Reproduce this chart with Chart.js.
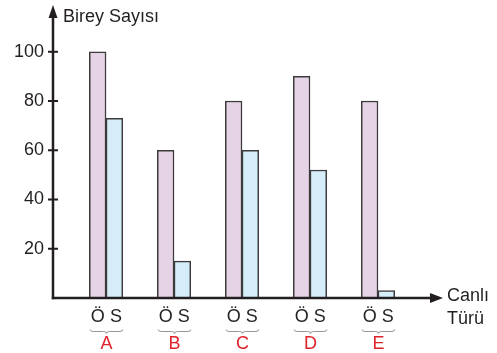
<!DOCTYPE html>
<html>
<head>
<meta charset="utf-8">
<script src="https://cdn.jsdelivr.net/npm/chart.js@4/dist/chart.umd.min.js"></script>
<style>
  html, body { margin: 0; padding: 0; background: #fff; }
  #wrap { width: 497px; height: 353px; }
</style>
</head>
<body>
<div id="wrap"><canvas id="grafik"></canvas></div>
<script>
// Canlı türleri ve birey sayıları (Ö = önce, S = sonra)
const canliTurleri = ['A', 'B', 'C', 'D', 'E'];
const onceSayisi = [100, 60, 80, 90, 80];
const sonraSayisi = [73, 15, 60, 52, 3];
const yTickleri = [20, 40, 60, 80, 100];

const FONT = '"Liberation Sans", Arial, sans-serif';
const MAVI_SIYAH = '#231f20';

// eksenler, oklar ve alt etiketler
const eksenCiz = {
  id: 'eksenCiz',
  afterDraw(chart) {
    const ctx = chart.ctx;
    const a = chart.chartArea;
    const ys = chart.scales.y;
    ctx.save();
    ctx.strokeStyle = MAVI_SIYAH;
    ctx.fillStyle = MAVI_SIYAH;
    ctx.lineWidth = 2.5;

    // y ekseni
    ctx.beginPath();
    ctx.moveTo(a.left, a.bottom + 1.2);
    ctx.lineTo(a.left, a.top + 10);
    ctx.stroke();
    ctx.beginPath();
    ctx.moveTo(a.left, a.top);
    ctx.lineTo(a.left - 4.5, a.top + 13);
    ctx.lineTo(a.left + 4.5, a.top + 13);
    ctx.closePath();
    ctx.fill();

    // x ekseni
    ctx.beginPath();
    ctx.moveTo(a.left - 1.2, a.bottom);
    ctx.lineTo(a.right - 10, a.bottom);
    ctx.stroke();
    ctx.beginPath();
    ctx.moveTo(a.right, a.bottom);
    ctx.lineTo(a.right - 13, a.bottom - 5);
    ctx.lineTo(a.right - 13, a.bottom + 5);
    ctx.closePath();
    ctx.fill();

    // y tik çizgileri
    ctx.lineWidth = 2;
    yTickleri.forEach(v => {
      const y = ys.getPixelForValue(v);
      ctx.beginPath();
      ctx.moveTo(a.left - 5, y);
      ctx.lineTo(a.left + 5, y);
      ctx.stroke();
    });

    // eksen başlıkları
    ctx.font = '18px ' + FONT;
    ctx.textBaseline = 'middle';
    ctx.textAlign = 'left';
    ctx.fillText('Birey Sayısı', a.left + 10, 17);
    ctx.fillText('Canlı', a.right + 4, a.bottom - 2);
    ctx.fillText('Türü', a.right + 4, a.bottom + 21);

    // Ö / S, parantez ve tür harfi
    const meta0 = chart.getDatasetMeta(0);
    const meta1 = chart.getDatasetMeta(1);
    canliTurleri.forEach((tur, i) => {
      const xO = meta0.data[i].x;
      const xS = meta1.data[i].x;
      ctx.fillStyle = MAVI_SIYAH;
      ctx.textAlign = 'center';
      ctx.font = '18px ' + FONT;
      ctx.fillText('Ö', xO, a.bottom + 19);
      ctx.fillText('S', xS + 1.5, a.bottom + 19);

      // küme parantezi
      const x1 = xO - 7.5, x2 = xS + 8.5, xm = (x1 + x2) / 2;
      const yT = a.bottom + 31.5, yB = a.bottom + 35.5;
      ctx.strokeStyle = '#8a8a8a';
      ctx.lineWidth = 0.9;
      ctx.beginPath();
      ctx.moveTo(x1, yT);
      ctx.quadraticCurveTo(x1, yT + 2, x1 + 3, yT + 2);
      ctx.lineTo(xm - 3, yT + 2);
      ctx.quadraticCurveTo(xm, yT + 2, xm, yB);
      ctx.quadraticCurveTo(xm, yT + 2, xm + 3, yT + 2);
      ctx.lineTo(x2 - 3, yT + 2);
      ctx.quadraticCurveTo(x2, yT + 2, x2, yT);
      ctx.stroke();

      ctx.fillStyle = '#e0232b';
      ctx.fillText(tur, xm, a.bottom + 46);
    });
    ctx.restore();
  }
};

const ctx = document.getElementById('grafik').getContext('2d');
new Chart(ctx, {
  type: 'bar',
  data: {
    datasets: [
      {
        label: 'Ö',
        data: onceSayisi.map((v, i) => ({ x: i, y: v })),
        backgroundColor: '#e5d3e6',
        borderColor: '#3c3a3b',
        borderWidth: 1.5,
        barThickness: 16.7
      },
      {
        label: 'S',
        data: sonraSayisi.map((v, i) => ({ x: i, y: v })),
        backgroundColor: '#d5ecf9',
        borderColor: '#3c3a3b',
        borderWidth: 1.5,
        barThickness: 16.7
      }
    ]
  },
  options: {
    responsive: true,
    maintainAspectRatio: false,
    animation: false,
    layout: { padding: { top: 5, left: 0, right: 54, bottom: 55 } },
    plugins: { legend: { display: false }, tooltip: { enabled: false } },
    scales: {
      x: {
        type: 'linear',
        display: false,
        offset: false,
        min: -0.78,
        max: 4.956
      },
      y: {
        min: 0,
        max: 119,
        grid: { display: false, drawTicks: false },
        border: { display: false },
        afterBuildTicks: s => { s.ticks = yTickleri.map(v => ({ value: v })); },
        afterFit: s => { s.width = 53; s.paddingTop = 0; s.paddingBottom = 0; },
        ticks: {
          padding: 9,
          color: MAVI_SIYAH,
          font: { family: FONT, size: 18 }
        }
      }
    }
  },
  plugins: [eksenCiz]
});
</script>
</body>
</html>
